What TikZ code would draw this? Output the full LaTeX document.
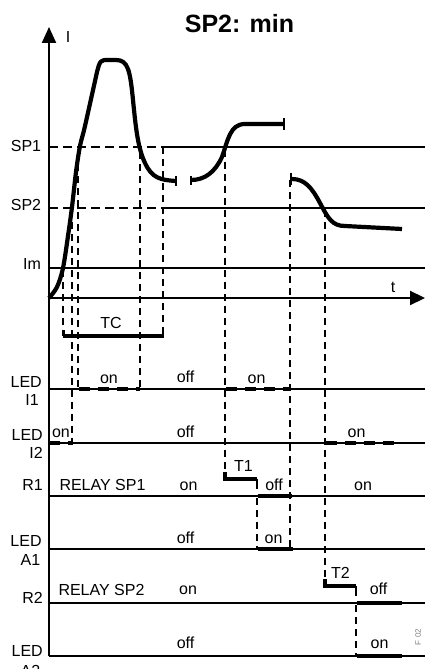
\documentclass[tikz,border=0pt]{standalone}
\usepackage{fontspec}
\setmainfont{Liberation Sans}
\usetikzlibrary{arrows.meta}
\begin{document}
\begin{tikzpicture}[x=1pt,y=-1pt,
  lbl/.style={font=\fontsize{16}{18}\selectfont, inner sep=0pt, anchor=base},
  lblr/.style={lbl, anchor=base east},
  gridline/.style={line width=1.5pt},
  refdash/.style={line width=1.7pt, dash pattern=on 9pt off 5pt},
  vdash/.style={line width=2pt, dash pattern=on 7pt off 5pt},
  curve/.style={line width=4.2pt, line join=round},
  bar/.style={line width=4.2pt},
  ledon/.style={line width=4.2pt, dash pattern=on 11pt off 8pt},
  tick/.style={line width=1.5pt},
  axis/.style={line width=2.2pt}]
\useasboundingbox (0,0) rectangle (425,669);

% title
\node[font=\fontsize{25}{28}\selectfont\bfseries, inner sep=0pt, anchor=base] (title) at (239.5,33) {SP2: min};

% reference levels
\draw[refdash] (49,147) -- (163,147);
\draw[gridline] (163,147) -- (425,147);
\draw[refdash] (49,208) -- (163,208);
\draw[gridline] (163,208) -- (425,208);
\draw[gridline] (49,268) -- (425,268);

% timeline rows
\foreach \yy in {389,496,549,603,656} \draw[gridline] (49,\yy) -- (425,\yy);
\draw[line width=1.9pt] (49,443) -- (425,443);

% axes
\draw[axis, -{Triangle[length=15pt,width=14pt]}] (49,298) -- (425,298);
\draw[axis, -{Triangle[length=16pt,width=14pt]}] (49,656) -- (49,27);

% axis labels
\node[lbl] (lI) at (68,43) {I};
\node[lbl] (lt) at (393,292) {t};
\node[lbl] (lsp1) at (26,151) {SP1};
\node[lbl] (lsp2) at (26,210) {SP2};
\node[lbl] (lim) at (32,269) {Im};

% current curve
\draw[curve] plot[smooth, tension=0.55] coordinates {(49,298) (57,287) (63,268) (68,236) (72,207) (76,172) (80,146) (85,126) (97,72)}
  .. controls (100,60) and (101,60) .. (108,60) -- (116,60)
  .. controls (128,60) and (130,70) .. (133,100)
  .. controls (136,130) and (138,148) .. (145,163)
  .. controls (152,178) and (160,180) .. (176,181);
\draw[tick] (176,176) -- (176,186);
\draw[curve] (191,180) .. controls (205,180) and (215,172) .. (222,157)
  .. controls (228,140) and (230,124) .. (245,124) -- (284,124);
\draw[tick] (191,176) -- (191,185);
\draw[tick] (284,118) -- (284,130);
\draw[curve] (292,179) .. controls (305,179) and (312,188) .. (320,203)
  .. controls (328,218) and (332,226) .. (345,226) -- (402,229);
\draw[tick] (291,173) -- (291,185);

% vertical dashed projections
\draw[vdash] (63,270) -- (63,336);
\draw[vdash] (72,210) -- (72,443);
\draw[vdash] (78,152) -- (78,389);
\draw[vdash] (140,152) -- (140,389);
\draw[vdash] (163,147) -- (163,336);
\draw[vdash] (225,150) -- (225,473);
\draw[vdash] (290,180) -- (290,549);
\draw[vdash] (325,210) -- (325,580);
\draw[vdash] (257,498) -- (257,549);
\draw[vdash] (356,605) -- (356,656);

% TC bar
\draw[bar] (64,336) -- (163,336);
\draw[tick] (64,330) -- (64,338);
\draw[tick] (163,327) -- (163,338);
\node[lbl] (tc) at (111,328) {TC};

% LED I1
\draw[ledon] (79,389) -- (140,389);
\draw[ledon] (226,389) -- (291,389);
\node[lblr] (led1) at (42,387) {LED};
\node[lblr] (i1) at (39,405) {I1};
\node[lbl] (i1on) at (109,383) {on};
\node[lbl] (i1off) at (185.5,382) {off};
\node[lbl] (i1on2) at (256.5,383) {on};

% LED I2
\draw[ledon] (49,443) -- (73,443);
\draw[ledon] (326,443) -- (394,443);
\node[lblr] (led2) at (43,440) {LED};
\node[lblr] (i2) at (43,458) {I2};
\node[lbl] (i2on) at (61,437) {on};
\node[lbl] (i2off) at (185.5,437) {off};
\node[lbl] (i2on2) at (356.5,437) {on};

% R1
\draw[bar] (225,472) -- (225,479) -- (257,479);
\draw[tick] (257,479) -- (257,489);
\draw[bar] (258,496) -- (292,496);
\node[lblr] (r1) at (43,490) {R1};
\node[lbl] (relay1) at (102.5,490) {RELAY SP1};
\node[lbl] (r1on) at (188.5,490) {on};
\node[lbl] (t1) at (243.5,471) {T1};
\node[lbl] (r1off) at (274,490) {off};
\node[lbl] (r1on2) at (363,490) {on};

% LED A1
\draw[bar] (258,549) -- (293,549);
\node[lbl] (leda1) at (26,546) {LED};
\node[lbl] (a1) at (30.5,565) {A1};
\node[lbl] (a1off) at (185.5,543) {off};
\node[lbl] (a1on) at (273.5,543) {on};

% R2
\draw[bar] (325,579) -- (325,586) -- (356,586);
\draw[tick] (356,586) -- (356,596);
\draw[bar] (357,603) -- (402,603);
\node[lblr] (r2) at (43,603) {R2};
\node[lbl] (relay2) at (101.5,595) {RELAY SP2};
\node[lbl] (r2on) at (188,594) {on};
\node[lbl] (t2) at (340.5,578) {T2};
\node[lbl] (r2off) at (378.5,594) {off};

% LED A2
\draw[bar] (357,656) -- (402,656);
\node[lblr] (leda2) at (43,656) {LED};
\node[lbl] (a2) at (30.5,676) {A2};
\node[lbl] (a2off) at (185.5,648) {off};
\node[lbl] (a2on) at (379.5,648) {on};

\node[font=\fontsize{8}{9}\selectfont, text=gray, rotate=90, inner sep=0pt] (fig) at (418,637) {F 02};
\end{tikzpicture}
\end{document}
